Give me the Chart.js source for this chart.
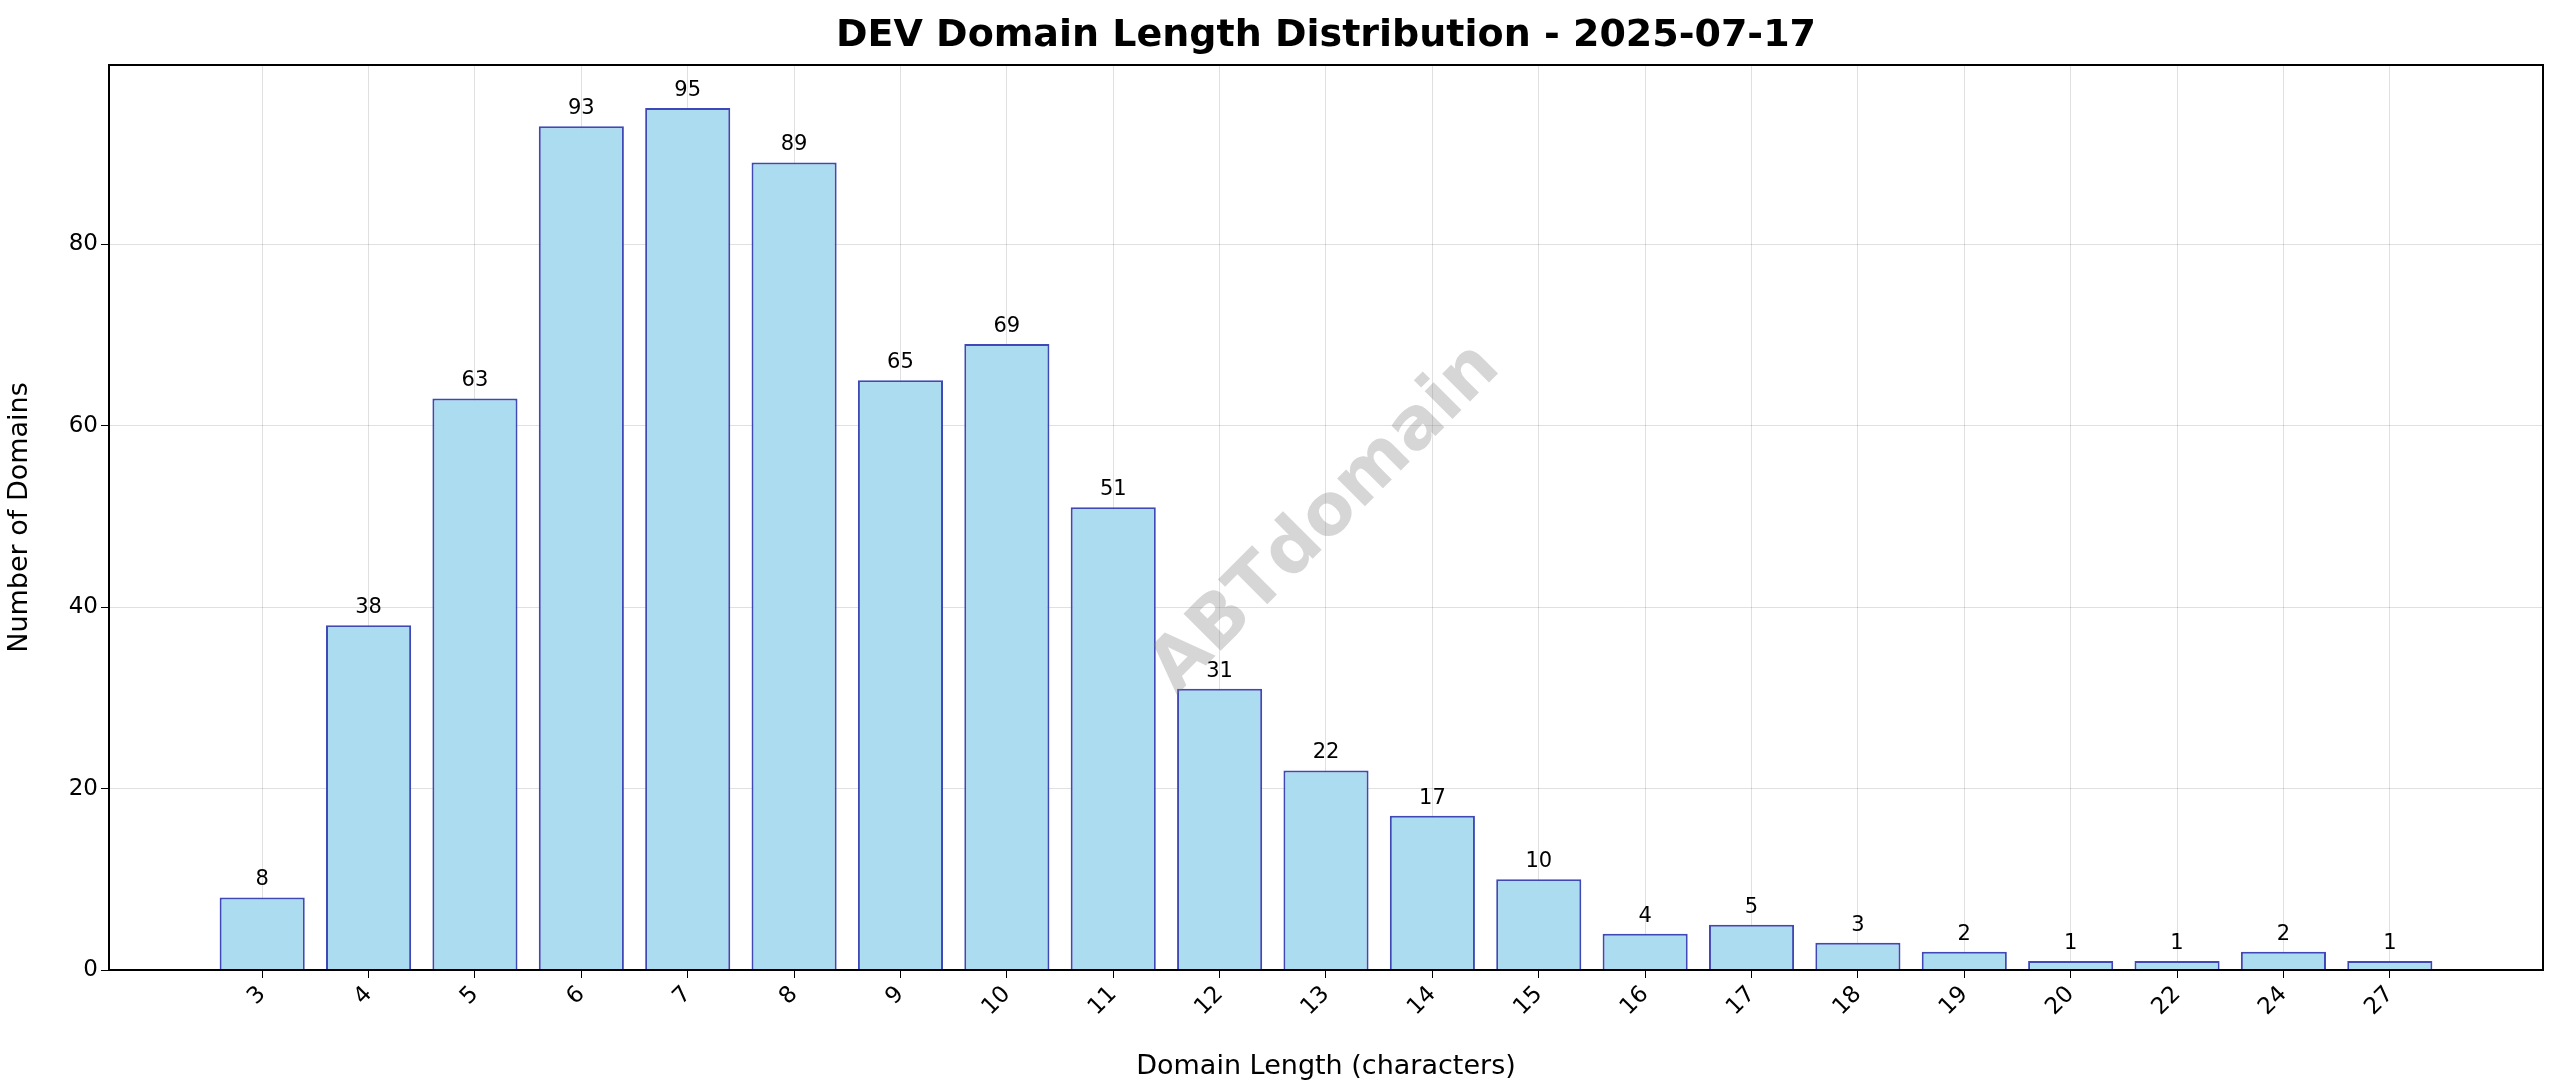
<!DOCTYPE html>
<html>
<head>
<meta charset="utf-8">
<script src="https://cdn.jsdelivr.net/npm/chart.js@4"></script>
<style>
  html, body { margin: 0; padding: 0; background: #fff; }
  #wrap { width: 2560px; height: 1087px; }
</style>
</head>
<body>
<div id="wrap"><canvas id="lengthChart"></canvas></div>
<script>
// Domain length distribution data
const lengths = ["3", "4", "5", "6", "7", "8", "9", "10", "11", "12", "13", "14", "15", "16", "17", "18", "19", "20", "22", "24", "27"];
const counts = [8, 38, 63, 93, 95, 89, 65, 69, 51, 31, 22, 17, 10, 4, 5, 3, 2, 1, 1, 2, 1];
const yTicks = [0, 20, 40, 60, 80];

const FONT = "'DejaVu Sans', sans-serif";

// title, watermark, value labels and frame
const extras = {
  id: "extras",
  afterDatasetsDraw(chart) {
    const ctx = chart.ctx;
    const a = chart.chartArea;
    const meta = chart.getDatasetMeta(0);
    ctx.save();
    ctx.fillStyle = "#000";
    ctx.font = "21px " + FONT;
    ctx.textAlign = "center";
    ctx.textBaseline = "bottom";
    meta.data.forEach((bar, i) => {
      ctx.fillText(counts[i], bar.x, bar.y - 7);
    });

    ctx.font = "bold 38px " + FONT;
    ctx.textBaseline = "middle";
    ctx.fillText("DEV Domain Length Distribution - 2025-07-17", (a.left + a.right) / 2, 36);

    ctx.strokeStyle = "#000";
    ctx.lineWidth = 2;
    ctx.strokeRect(a.left, a.top, a.right - a.left, a.bottom - a.top);

    ctx.translate(1326, 519);
    ctx.rotate(-Math.PI / 4);
    ctx.font = "bold 72px " + FONT;
    ctx.fillStyle = "rgba(128,128,128,0.32)";
    ctx.fillText("ABTdomain", 0, 0);
    ctx.restore();
  }
};

new Chart(document.getElementById("lengthChart"), {
  type: "bar",
  data: {
    datasets: [{
      data: counts.map((c, i) => ({ x: i, y: c })),
      backgroundColor: "#abdcef",
      borderColor: "#3f48b5",
      borderWidth: 2,
      barPercentage: 0.8,
      categoryPercentage: 1.0
    }]
  },
  options: {
    responsive: true,
    maintainAspectRatio: false,
    animation: false,
    layout: { padding: { top: 65, right: 17, left: 0, bottom: 0 } },
    plugins: { legend: { display: false }, tooltip: { enabled: false } },
    scales: {
      x: {
        type: "linear",
        offset: false,
        min: -1.44,
        max: 21.44,
        afterBuildTicks: (scale) => { scale.ticks = lengths.map((l, i) => ({ value: i })); },
        afterFit: (scale) => { scale.height = 117; },
        ticks: {
          callback: (v) => lengths[v],
          maxRotation: 45,
          minRotation: 45,
          color: "#000",
          font: { size: 23, family: FONT }
        },
        grid: { offset: false, color: "rgba(0,0,0,0.12)", tickColor: "#000", tickLength: 8 },
        border: { color: "#000", width: 2 },
        title: { display: true, text: "Domain Length (characters)", color: "#000", font: { size: 27, family: FONT }, padding: { top: 0 } }
      },
      y: {
        min: 0,
        max: 99.75,
        afterBuildTicks: (scale) => { scale.ticks = yTicks.map((v) => ({ value: v })); },
        afterFit: (scale) => { scale.width = 109; },
        ticks: { color: "#000", font: { size: 23, family: FONT } },
        grid: { color: "rgba(0,0,0,0.12)", tickColor: "#000", tickLength: 8 },
        border: { color: "#000", width: 2 },
        title: { display: true, text: "Number of Domains", color: "#000", font: { size: 27, family: FONT } }
      }
    }
  },
  plugins: [extras]
});
</script>
</body>
</html>
